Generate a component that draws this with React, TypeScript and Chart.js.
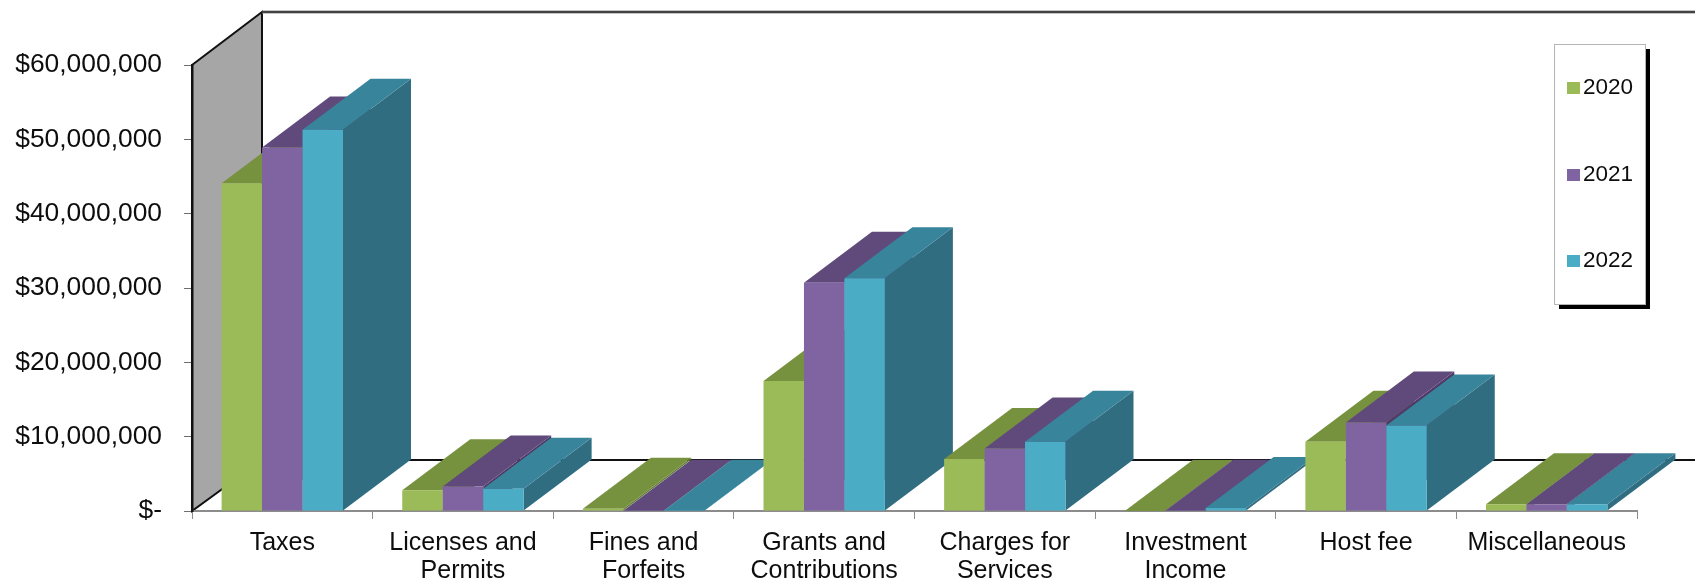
import React, { useEffect, useRef } from "react";
import { Chart, registerables } from "chart.js";

Chart.register(...registerables);

const categories = [
  "Taxes",
  ["Licenses and", "Permits"],
  ["Fines and", "Forfeits"],
  ["Grants and", "Contributions"],
  ["Charges for", "Services"],
  ["Investment", "Income"],
  "Host fee",
  "Miscellaneous",
];
const values2020 = [44100000, 2800000, 300000, 17500000, 7000000, 0, 9300000, 900000];
const values2021 = [48900000, 3300000, 50000, 30700000, 8400000, 50000, 11900000, 900000];
const values2022 = [51300000, 3000000, 50000, 31300000, 9300000, 400000, 11500000, 900000];

const FONT = '"Liberation Sans", Arial, sans-serif';
const TEXT = "#0d0d0d";
const DEPTH_X = 68;
const DEPTH_Y = 51;
const topColors = ["#77923f", "#604a7b", "#37849b"];
const sideColors = ["#5f7a30", "#4f3a68", "#316d80"];

const wallPlugin = {
  id: "wall",
  beforeDraw(chart: any) {
    const { ctx, chartArea: a } = chart;
    const bx = a.left + 70;
    const topY = 12;
    const floorY = a.bottom - 51;
    ctx.save();
    ctx.fillStyle = "#a6a6a6";
    ctx.beginPath();
    ctx.moveTo(a.left, a.top);
    ctx.lineTo(bx, topY);
    ctx.lineTo(bx, floorY);
    ctx.lineTo(a.left, a.bottom);
    ctx.closePath();
    ctx.fill();
    ctx.strokeStyle = "#111111";
    ctx.lineWidth = 2;
    ctx.stroke();
    ctx.strokeStyle = "#8c8c8c";
    ctx.lineWidth = 3;
    ctx.beginPath();
    ctx.moveTo(bx, topY);
    ctx.lineTo(chart.width, topY);
    ctx.stroke();
    ctx.strokeStyle = "#2a2a2a";
    ctx.lineWidth = 1.5;
    ctx.beginPath();
    ctx.moveTo(bx, topY);
    ctx.lineTo(chart.width, topY);
    ctx.stroke();
    ctx.strokeStyle = "#111111";
    ctx.lineWidth = 2;
    ctx.beginPath();
    ctx.moveTo(bx, floorY);
    ctx.lineTo(chart.width, floorY);
    ctx.stroke();
    ctx.restore();
  },
};

const bars3dPlugin = {
  id: "bars3d",
  beforeDatasetsDraw(chart: any) {
    const { ctx } = chart;
    const metas = chart.data.datasets.map((_: any, i: number) => chart.getDatasetMeta(i));
    const count = chart.data.labels.length;
    ctx.save();
    for (let c = 0; c < count; c++) {
      metas.forEach((meta: any, s: number) => {
        const bar = meta.data[c];
        const left = bar.x - bar.width / 2;
        const right = bar.x + bar.width / 2;
        const top = bar.y;
        const bottom = bar.base;
        ctx.fillStyle = sideColors[s];
        ctx.beginPath();
        ctx.moveTo(right, top);
        ctx.lineTo(right + DEPTH_X, top - DEPTH_Y);
        ctx.lineTo(right + DEPTH_X, bottom - DEPTH_Y);
        ctx.lineTo(right, bottom);
        ctx.closePath();
        ctx.fill();
        ctx.fillStyle = topColors[s];
        ctx.beginPath();
        ctx.moveTo(left, top);
        ctx.lineTo(left + DEPTH_X, top - DEPTH_Y);
        ctx.lineTo(right + DEPTH_X, top - DEPTH_Y);
        ctx.lineTo(right, top);
        ctx.closePath();
        ctx.fill();
        bar.draw(ctx);
      });
    }
    ctx.restore();
    return false;
  },
};

const legendPlugin = {
  id: "boxLegend",
  afterDraw(chart: any) {
    const { ctx } = chart;
    const x = 1554;
    const y = 44;
    const w = 91;
    const h = 260;
    const rows = [88, 175, 261];
    ctx.save();
    ctx.fillStyle = "#000000";
    ctx.fillRect(x + 5, y + 5, w, h);
    ctx.fillStyle = "#ffffff";
    ctx.fillRect(x, y, w, h);
    ctx.strokeStyle = "#b5b5b5";
    ctx.lineWidth = 1;
    ctx.strokeRect(x + 0.5, y + 0.5, w, h);
    ctx.font = `22.5px ${FONT}`;
    ctx.textBaseline = "middle";
    chart.data.datasets.forEach((d: any, i: number) => {
      ctx.fillStyle = d.backgroundColor;
      ctx.fillRect(x + 13, rows[i] - 6, 13, 12);
      ctx.fillStyle = TEXT;
      ctx.fillText(d.label, x + 29, rows[i]);
    });
    ctx.restore();
  },
};

export default function App() {
  const ref = useRef<HTMLCanvasElement>(null);
  useEffect(() => {
    const chart = new Chart(ref.current as HTMLCanvasElement, {
      type: "bar",
      data: {
        labels: categories as any,
        datasets: [
          { label: "2020", data: values2020, backgroundColor: "#9bbb59" },
          { label: "2021", data: values2021, backgroundColor: "#8064a2" },
          { label: "2022", data: values2022, backgroundColor: "#4bacc6" },
        ],
      },
      plugins: [wallPlugin, bars3dPlugin, legendPlugin],
      options: {
        responsive: false,
        animation: false,
        layout: { padding: { top: 65, right: 58, left: 0, bottom: 0 } },
        datasets: { bar: { categoryPercentage: 0.672, barPercentage: 1 } },
        plugins: { legend: { display: false }, tooltip: { enabled: false } },
        scales: {
          x: {
            afterFit: (s: any) => { s.height = 71; },
            grid: { drawOnChartArea: false, offset: true, tickLength: 8, color: "#8c8c8c" },
            border: { color: "#8c8c8c", width: 2 },
            ticks: {
              maxRotation: 0,
              minRotation: 0,
              autoSkip: false,
              padding: 10,
              color: TEXT,
              font: { family: FONT, size: 25, lineHeight: 1.12 },
            },
          },
          y: {
            min: 0,
            max: 60000000,
            afterFit: (s: any) => { s.width = 192; },
            grid: { drawOnChartArea: false, tickLength: 8, color: "#6e6e6e" },
            border: { color: "#111111", width: 2.5 },
            ticks: {
              stepSize: 10000000,
              padding: 22,
              color: TEXT,
              font: { family: FONT, size: 26.4 },
              callback: (v: any) => (v === 0 ? "$-" : "$" + Number(v).toLocaleString("en-US")),
            },
          },
        },
      },
    });
    return () => chart.destroy();
  }, []);
  return (
    <div style={{ position: "fixed", left: 0, top: 0, width: 1695, height: 582, background: "#fff" }}>
      <canvas ref={ref} width={1695} height={582} style={{ display: "block", filter: "blur(0.7px)" }} />
    </div>
  );
}
